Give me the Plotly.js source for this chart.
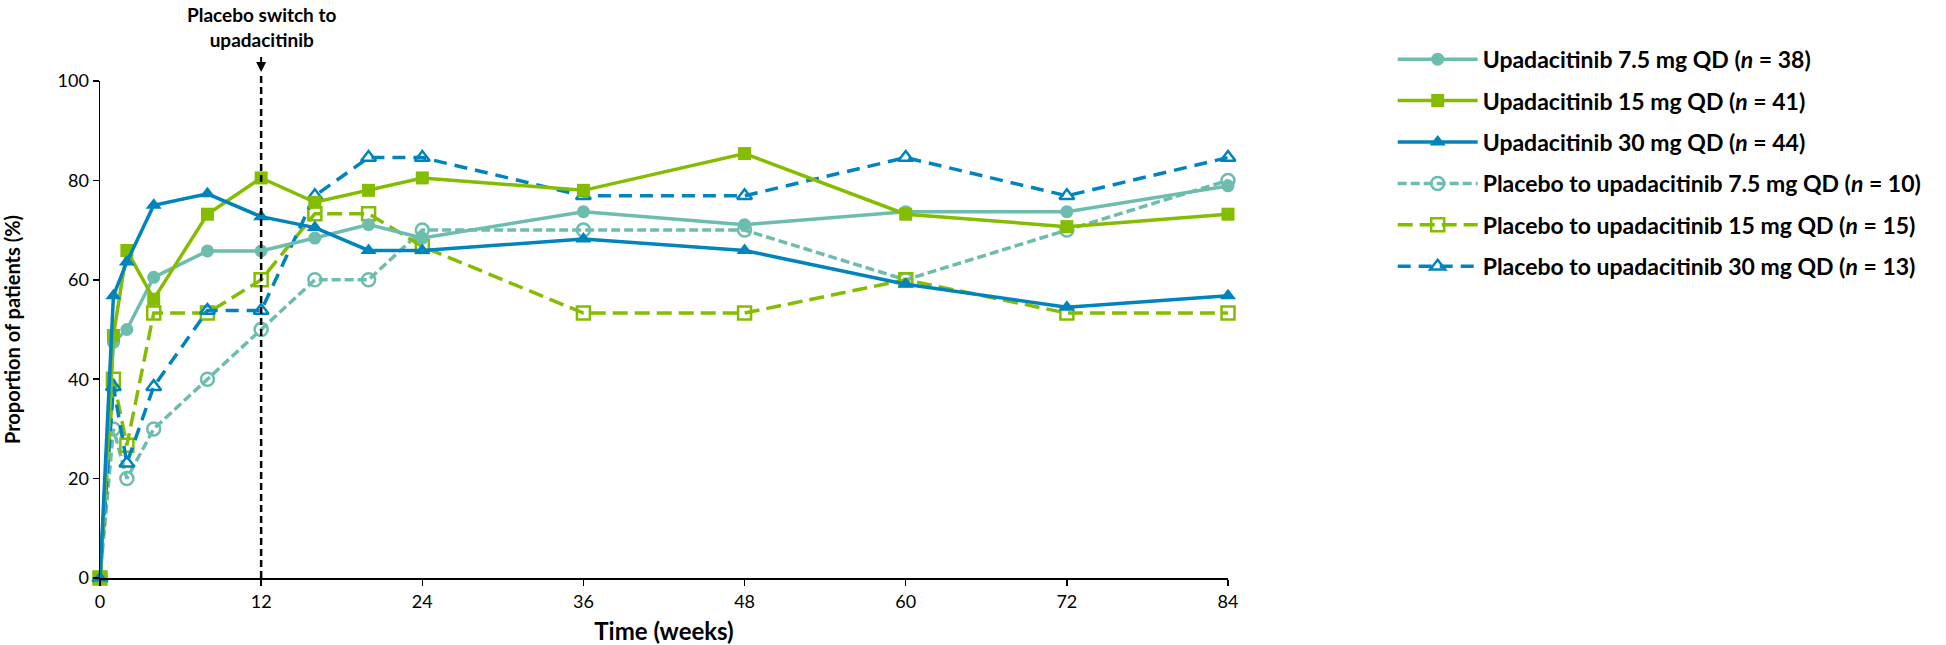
<!DOCTYPE html>
<html>
<head>
<meta charset="utf-8">
<script src="https://cdn.plot.ly/plotly-3.0.1.min.js"></script>
<style>html,body{margin:0;padding:0;background:#fff;}#chart{width:1946px;height:645px;}</style>
</head>
<body>
<div id="chart"></div>
<script>
// Time points (weeks)
const weeks = [0, 1, 2, 4, 8, 12, 16, 20, 24, 36, 48, 60, 72, 84];
const xTicks = [0, 12, 24, 36, 48, 60, 72, 84];
const yTicks = [0, 20, 40, 60, 80, 100];

// Proportion of patients (%)
const upa75 = [0, 47.4, 50.0, 60.5, 65.8, 65.8, 68.4, 71.1, 68.4, 73.7, 71.1, 73.7, 73.7, 78.9];
const upa15 = [0, 48.8, 65.9, 56.1, 73.2, 80.5, 75.6, 78.0, 80.5, 78.0, 85.4, 73.2, 70.7, 73.2];
const upa30 = [0, 56.8, 63.6, 75.0, 77.3, 72.7, 70.5, 65.9, 65.9, 68.2, 65.9, 59.1, 54.5, 56.8];
const pbo75 = [0, 30.0, 20.0, 30.0, 40.0, 50.0, 60.0, 60.0, 70.0, 70.0, 70.0, 60.0, 70.0, 80.0];
const pbo15 = [0, 40.0, 26.7, 53.3, 53.3, 60.0, 73.3, 73.3, 66.7, 53.3, 53.3, 60.0, 53.3, 53.3];
const pbo30 = [0, 38.5, 23.1, 38.5, 53.8, 53.8, 76.9, 84.6, 84.6, 76.9, 76.9, 84.6, 76.9, 84.6];

const seriesNames = [
  'Upadacitinib 7.5 mg QD (<i>n</i> = 38)',
  'Upadacitinib 15 mg QD (<i>n</i> = 41)',
  'Upadacitinib 30 mg QD (<i>n</i> = 44)',
  'Placebo to upadacitinib 7.5 mg QD (<i>n</i> = 10)',
  'Placebo to upadacitinib 15 mg QD (<i>n</i> = 15)',
  'Placebo to upadacitinib 30 mg QD (<i>n</i> = 13)'
];

const TEAL = '#6dbdaf', GREEN = '#84bd00', BLUE = '#0084bd';
const FONT = 'Lato, "Open Sans", sans-serif';

function tr(y, name, color, symbol, dash, rank, open) {
  return {
    type: 'scatter', mode: 'lines+markers', x: weeks, y: y, name: name,
    legendrank: rank, legendgroup: 'g' + rank, cliponaxis: false,
    line: {color: color, width: 3.5, dash: dash},
    marker: open
      ? {symbol: symbol, size: 13, color: color, line: {color: color, width: 2.5}}
      : {symbol: symbol, size: symbol === 'triangle-up' ? 14 : 13, color: color, line: {width: 0}}
  };
}

const data = [
  tr(pbo75, seriesNames[3], TEAL, 'circle-open', '9px,4px', 4, true),
  tr(pbo15, seriesNames[4], GREEN, 'square-open', '15px,7px', 5, true),
  tr(pbo30, seriesNames[5], BLUE, 'triangle-up-open', '13px,8px', 6, true),
  tr(upa75, seriesNames[0], TEAL, 'circle', 'solid', 1, false),
  tr(upa15, seriesNames[1], GREEN, 'square', 'solid', 2, false),
  tr(upa30, seriesNames[2], BLUE, 'triangle-up', 'solid', 3, false)
];

const layout = {
  width: 1946, height: 645,
  margin: {l: 100, r: 718, t: 81, b: 67},
  paper_bgcolor: '#fff', plot_bgcolor: '#fff',
  font: {family: FONT, color: '#000', size: 18},
  showlegend: true,
  legend: {
    x: 1.146, xanchor: 'left', y: 1.087, yanchor: 'top',
    font: {family: FONT, size: 23, color: '#000', weight: 'bold'},
    tracegroupgap: 8.5, itemwidth: 80, bgcolor: 'rgba(0,0,0,0)'
  },
  xaxis: {
    range: [0, 84], tickvals: xTicks, ticktext: xTicks.map(String),
    showgrid: false, zeroline: false, showline: true, linecolor: '#000', linewidth: 2,
    ticks: 'outside', ticklen: 6, tickwidth: 1.5, tickcolor: '#000',
    tickfont: {family: FONT, size: 18, color: '#000'},
    title: {text: '<b>Time (weeks)</b>', font: {family: FONT, size: 24, color: '#000'}, standoff: 15}
  },
  yaxis: {
    range: [0, 100], tickvals: yTicks, ticktext: yTicks.map(String),
    showgrid: false, zeroline: false, showline: true, linecolor: '#000', linewidth: 1.5,
    ticks: 'outside', ticklen: 6, tickwidth: 1.5, tickcolor: '#000',
    tickfont: {family: FONT, size: 18, color: '#000'},
    title: {text: '<b>Proportion of patients (%)</b>', font: {family: FONT, size: 20, color: '#000'}, standoff: 41}
  },
  shapes: [{
    type: 'line', layer: 'above', xref: 'x', yref: 'paper',
    x0: 12, x1: 12, y0: 0, y1: 1.018,
    line: {color: '#000', width: 2.5, dash: '7px,4px'}
  }],
  annotations: [{
    xref: 'x', yref: 'paper', x: 12, y: 1.018,
    text: '<b>Placebo switch to<br>upadacitinib</b>',
    showarrow: true, ax: 0, ay: -19, startstandoff: 4, arrowhead: 2, arrowsize: 1, arrowwidth: 2, arrowcolor: '#000',
    xanchor: 'center', yanchor: 'bottom',
    font: {family: FONT, size: 19, color: '#000'}
  }]
};

Plotly.newPlot('chart', data, layout, {displayModeBar: false, staticPlot: true});
</script>
</body>
</html>
